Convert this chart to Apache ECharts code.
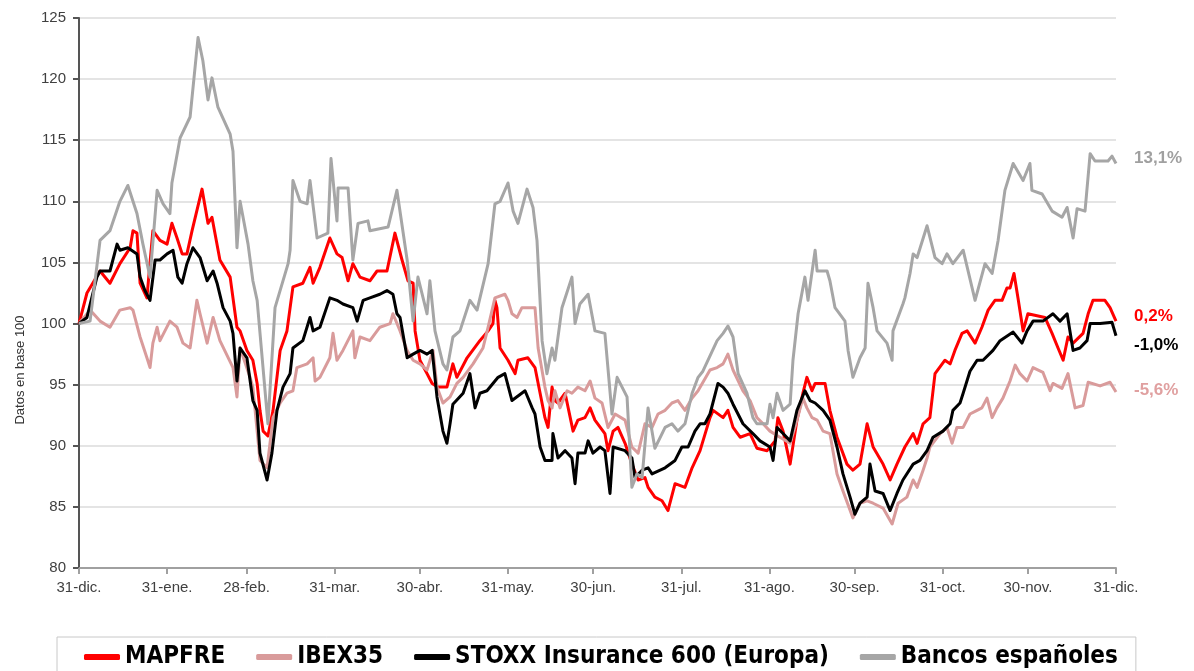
<!DOCTYPE html>
<html>
<head>
  <meta charset="UTF-8">
  <title>MAPFRE vs índices</title>
  <script src="https://cdn.jsdelivr.net/npm/echarts@6/dist/echarts.min.js"></script>
  <style>
    html, body { margin: 0; padding: 0; background: #fff; }
    #main { width: 1194px; height: 671px; }
  </style>
</head>
<body>
<div id="main"></div>
<script type="text/javascript">
  // eje x: dias desde el 31-dic (0..365)
  var tickDays = [0, 31, 59, 90, 120, 151, 181, 212, 243, 273, 304, 334, 365];
  var tickLabels = ['31-dic.', '31-ene.', '28-feb.', '31-mar.', '30-abr.', '31-may.', '30-jun.',
    '31-jul.', '31-ago.', '30-sep.', '31-oct.', '30-nov.', '31-dic.'];
  var yTicks = [80, 85, 90, 95, 100, 105, 110, 115, 120, 125];

  var seriesNames = ['MAPFRE', 'IBEX35', 'STOXX Insurance 600 (Europa)', 'Bancos españoles'];
  var endLabels = ['0,2%', '-5,6%', '-1,0%', '13,1%'];

  // [dia, valor base 100]
  var mapfre = [[0,100],[2.8,102.5],[7.4,104.3],[10.9,103.3],[14.4,104.9],[18,106.2],[19,107.6],[20.4,107.4],[21.5,103.3],[23.9,102.1],[26,107.6],[28.5,106.8],[31,106.5],[32.7,108.2],[34.5,107],[36.3,105.7],[38,105.7],[39.8,107.6],[43.3,111],[45.4,108.2],[46.8,108.7],[49.6,105.2],[53.2,103.8],[55.6,99.7],[56.7,99.4],[59.1,97.8],[61.2,97],[62.7,95.1],[63.7,92.9],[64.8,91.2],[66.5,90.8],[68.3,92.9],[70.8,97.8],[73.2,99.4],[75.3,103],[78.8,103.3],[81.3,104.6],[82.4,103.3],[84.8,104.6],[88.3,107],[90.8,105.7],[92.6,105.4],[94.7,103.5],[96.4,104.9],[98.9,103.8],[102.4,103.5],[104.9,104.3],[108.4,104.3],[111.2,107.4],[113.7,105.2],[115.8,103.5],[117.6,103.3],[118.3,99.4],[120,97],[122.5,95.9],[124.3,95.1],[126.4,94.8],[129.5,94.8],[131.6,96.7],[133,95.6],[136.6,97.2],[141.1,98.6],[144,99.4],[145.7,100],[146.4,101.9],[147.1,101.3],[148.2,98],[151,97],[153.5,95.9],[154.5,97],[158,97.2],[160.5,96.4],[162.3,94.3],[164,92.3],[165.1,91.5],[166.5,94.8],[167.5,93.7],[168.6,93.5],[171.1,94.3],[173.9,91.2],[175.6,92.1],[178.1,92.3],[179.9,93.1],[181.6,92.1],[185.1,91],[186.2,89.6],[188,91.2],[189.7,91.5],[192.2,90.2],[194.6,88.5],[196.8,87.2],[199.2,87.4],[200.3,86.6],[202.7,85.8],[205.2,85.5],[207.3,84.7],[209.8,86.9],[213.3,86.6],[215.8,88.2],[218.6,89.6],[222.1,92.3],[223.2,92.9],[226.7,92.3],[228.4,92.9],[230.2,91.5],[232.7,90.7],[236.2,91],[238.6,89.8],[242.2,89.6],[245,90.4],[246,92.3],[247.8,91.2],[250.3,88.5],[252.7,92.1],[254.8,94.3],[256.2,95.6],[258,94.5],[259.1,95.1],[262.6,95.1],[264.3,92.9],[266.8,90.7],[270.3,88.5],[272.4,88],[274.9,88.5],[277.4,91.8],[279.5,89.9],[283,88.5],[285.5,87.2],[287.9,88.5],[290.7,89.9],[293.6,91],[295,90.2],[297.1,91.8],[299.5,92.3],[301.3,95.9],[304.8,97],[306.6,96.7],[308.3,97.8],[310.8,99.2],[312.6,99.4],[315.4,98.4],[317.8,99.7],[320,101.1],[322.4,101.9],[324.9,101.9],[326.6,102.9],[327.7,102.9],[329.1,104.1],[330.5,102.1],[332.3,99.4],[334,100.8],[340,100.5],[342.5,99.2],[344.6,98],[346.4,97],[348.1,98.9],[349.9,98.4],[353.4,99.2],[355.2,100.8],[356.9,101.9],[361.1,101.9],[362.9,101.3],[365,100.2]];

  var ibex35 = [[0,100],[3.9,101.1],[7.4,100.2],[10.9,99.7],[14.4,101.1],[18,101.3],[19,101.1],[21.5,98.9],[23.9,97.2],[25,96.4],[26,98.4],[27.5,99.7],[28.5,98.6],[32,100.2],[34.5,99.7],[36.6,98.4],[39.1,98],[41.5,101.9],[42.6,100.8],[45.1,98.4],[47.2,100.5],[49.6,98.6],[54.2,96.4],[55.6,94],[56.7,98],[60.2,95.6],[61.2,94.8],[63.7,88.8],[66.2,88.2],[68.3,92.3],[70.8,93.5],[73.2,94.3],[75.3,94.5],[76.7,96.4],[80.3,96.7],[82.4,97.2],[83.1,95.3],[84.8,95.6],[88.3,97.2],[89.4,99.2],[90.8,97],[92.9,97.8],[96.4,99.4],[97.1,97.2],[98.9,98.9],[102.4,98.6],[105.9,99.7],[109.5,100],[110.5,100.8],[113,99.4],[115.5,97.8],[117.6,97],[120,96.7],[122.5,96.2],[124.6,97.8],[126,94.8],[128.1,93.5],[130.6,94],[133,95.1],[135.2,95.6],[138.7,96.7],[142.2,98],[144,99.7],[146.4,102.1],[149.9,102.4],[151,101.9],[152.4,100.8],[154.2,100.5],[155.9,101.3],[160.5,101.3],[161.6,98],[164,94.8],[165.1,93.7],[166.5,93.1],[167.5,94.5],[169.3,93.1],[171.8,94.5],[173.5,94.3],[175.6,94.8],[178.1,94.5],[179.9,95.3],[181.6,93.9],[184.1,93.5],[186.2,91.5],[188.7,92.6],[192.2,92.1],[194.6,89.9],[196.8,89.4],[199.2,91.8],[201.7,91.5],[203.8,92.6],[206.3,92.9],[208.7,93.5],[210.8,93.7],[213.3,92.9],[215.8,93.9],[217.9,94.5],[222.1,96.2],[224.6,96.4],[226.7,96.7],[228.4,97.5],[230.2,96.2],[233.7,94.5],[236.2,93.7],[238.6,92.3],[240.8,91.8],[243.2,91.2],[246.7,90.7],[250.3,90.2],[252.7,92.1],[254.8,93.9],[256.2,93.1],[258,92.3],[259.8,92.1],[261.9,91.2],[264.3,91],[266.8,87.7],[268.9,86.3],[272.4,84.1],[274.9,85.3],[277.4,85.5],[279.5,85.3],[283,84.9],[286.2,83.6],[288.3,85.3],[291.4,85.8],[293.6,87.2],[295,86.6],[297.1,88],[298.5,89],[299.5,89.9],[303.1,91],[305.5,91.5],[307.3,90.2],[309,91.5],[311.2,91.5],[313.6,92.6],[316.1,92.9],[317.8,93.1],[319.6,93.9],[321.4,92.3],[323.1,93.1],[325.2,93.9],[327.7,95.3],[329.5,96.6],[331.2,95.9],[333.7,95.3],[335.8,96.4],[339.3,96],[341.8,94.5],[342.8,95.1],[346,94.7],[348.1,95.9],[350.6,93.1],[353.4,93.3],[355.2,95.2],[359.4,94.9],[362.9,95.2],[365,94.4]];

  var stoxx = [[0,100],[2.8,100.5],[6.3,103.8],[7.4,104.3],[10.9,104.3],[13.4,106.5],[14.4,106],[17.2,106.2],[20.4,105.7],[21.5,103.8],[23.2,102.7],[25,101.9],[26.8,105.2],[28.5,105.2],[31,105.7],[33.1,106],[34.8,103.8],[36.3,103.3],[38,104.9],[40.1,106.2],[42.6,105.4],[45.1,103.5],[47.2,104.3],[48.6,103.3],[50.7,101.3],[53.2,100.2],[54.2,99.2],[55.6,95.3],[56.7,98],[59.1,97.2],[61.2,93.7],[62.7,92.9],[63.7,89.4],[66.2,87.2],[67.9,89.4],[69.7,92.9],[71.8,94.8],[74.3,95.9],[75.3,98],[78.8,98.6],[81.3,100.5],[82.4,99.4],[84.8,99.7],[88.3,102.1],[90.8,101.9],[92.9,101.6],[96.4,101.3],[97.9,100.2],[100,101.9],[102.4,102.1],[105.9,102.4],[108.4,102.7],[110.5,102.4],[111.9,100.8],[113,100.5],[115.5,97.2],[117.6,97.5],[120,97.8],[122.5,97.5],[124.3,97.8],[126,94],[128.1,91.2],[129.5,90.2],[130.6,91.8],[131.6,93.4],[135.2,94.3],[137.6,95.9],[139.4,93.1],[141.1,94.3],[143.6,94.5],[145.7,95.1],[147.5,95.6],[149.9,95.9],[152.4,93.7],[157,94.5],[159.5,93.1],[160.5,92.6],[162.3,89.9],[164,88.8],[166.5,88.8],[166.8,91],[168.6,89],[171.1,89.6],[173.5,89],[174.6,86.9],[175.6,89.4],[178.1,89.4],[179.2,90.4],[180.9,89.4],[183.4,89.9],[185.1,89.6],[186.9,86.1],[188,89.9],[192.2,89.6],[194.6,89],[195.7,87.4],[198.2,88],[200.3,88.2],[201.7,87.7],[206.3,88.2],[209.8,88.8],[212.2,89.9],[214.4,89.9],[216.8,91.2],[218.6,91.8],[220.3,91.8],[222.1,92.6],[224.9,95.1],[226.7,94.8],[228.4,94.3],[230.2,93.4],[233.7,91.8],[237.2,91],[239.7,90.4],[243.2,89.9],[244.3,88.8],[245.7,91.5],[247.8,91],[250.3,90.4],[252.7,92.9],[255.5,94.5],[257.3,93.7],[259.1,93.5],[261.9,92.9],[264.3,92.1],[266.8,89.9],[268.9,87.7],[271.4,85.8],[273.1,84.4],[274.9,85.3],[277.4,85.8],[278.4,88.5],[280.2,86.3],[283,86.1],[285.5,84.7],[287.9,86.1],[290,87.2],[293.6,88.5],[296,88.8],[298.5,89.6],[300.6,90.7],[304.1,91.2],[306.6,91.8],[307.6,92.9],[310.1,93.5],[311.2,94.3],[313.6,96.1],[316.1,97],[318.2,97],[321.7,97.8],[324.2,98.6],[328.8,99.3],[331.9,98.4],[333.7,99.4],[335.8,100.2],[339.3,100.2],[342.8,100.8],[345.3,100.2],[347.8,100.8],[349.9,97.8],[352.3,98],[354.8,98.6],[355.9,100],[359.4,100],[363.6,100.1],[365,99]];

  var bancos = [[0,100],[3.9,100.2],[7.4,106.8],[10.9,107.6],[14.4,110],[17.2,111.3],[20.4,109],[22.5,106.5],[25,103.8],[27.5,110.9],[29.6,109.8],[32,109],[32.7,111.5],[35.6,115.2],[39.1,116.9],[41.9,123.4],[43.6,121.5],[45.4,118.3],[46.8,120.1],[48.9,117.7],[53.2,115.5],[54.2,114.1],[55.6,106.2],[56.7,110],[59.5,106.5],[61.2,103.5],[62.7,101.9],[66.5,91.8],[69,101.3],[73.6,104.9],[74.3,106],[75.3,111.7],[77.8,110],[80.3,109.8],[81.3,111.7],[83.8,107],[87.6,107.4],[88.7,113.5],[90.8,108.4],[91.2,111.1],[94.7,111.1],[96.4,105.2],[98.2,108.2],[101.7,108.4],[102.4,107.6],[108.8,107.9],[111.9,110.9],[115.5,105.2],[117.6,100.2],[119.3,103.8],[122.5,100.8],[123.5,103.5],[125.3,99.4],[128.1,96.7],[129.5,96.2],[131.6,98.9],[134.1,99.4],[137.6,101.9],[140.1,101.1],[144,104.9],[146.4,109.8],[148.2,110],[151,111.5],[152.8,109.2],[154.5,108.2],[157.7,111],[159.8,109.5],[161.2,106.8],[163,98.6],[164.7,95.9],[166.5,98],[167.5,97],[170,101.3],[173.5,103.8],[174.6,100],[176.3,101.6],[179.2,102.4],[181.6,99.4],[185.1,99.2],[187.6,92.6],[189.4,95.6],[192.9,94],[194.6,86.6],[196.4,87.7],[198.2,87.4],[200.3,93.1],[202.7,89.8],[206.3,91.5],[208.7,91.8],[210.8,91.2],[213.3,91.8],[215.8,94.3],[217.9,95.6],[219.6,96.1],[224.6,98.6],[226.7,99.2],[228.4,99.8],[230.2,98.9],[232,95.9],[235.1,94.3],[237.2,92.3],[238.6,91.8],[242.2,91.8],[243.2,93.4],[244.3,92.3],[245.7,94.3],[247.8,92.9],[250.3,93.4],[251.3,97],[253.1,100.8],[255.5,103.8],[256.6,101.9],[259.1,106],[259.8,104.3],[263.3,104.3],[264.3,103.5],[266.1,101.3],[269.6,100.2],[270.7,97.8],[272.4,95.6],[274.9,97.2],[276.7,98],[277.7,103.3],[279.5,101.3],[280.9,99.4],[284.4,98.4],[286.2,97],[286.5,99.4],[290,101.6],[290.7,102.1],[292.5,104.1],[293.6,105.7],[295,105.4],[298.5,108],[301.3,105.4],[303.8,104.9],[305.5,105.7],[307.6,104.9],[311.2,106],[315.4,101.9],[318.9,104.9],[321.4,104.1],[323.5,106.8],[325.9,110.9],[328.8,113.1],[332.3,111.7],[334.7,113.1],[335.4,110.9],[339,110.6],[342.5,109.2],[346,108.7],[347.8,109.5],[349.9,107],[351.3,109.4],[354.1,109.2],[355.9,113.9],[357.6,113.3],[362.2,113.3],[363.6,113.7],[365,113.1]];

  var lineColors = ['#ff0000', '#d99b9b', '#000000', '#a6a6a6'];
  var labelColors = ['#ff0000', '#e0a0a0', '#000000', '#a0a0a0'];
  var labelOffsets = [[0, -5], [0, -2], [0, 10], [0, -5]];
  var allData = [mapfre, ibex35, stoxx, bancos];

  var myChart = echarts.init(document.getElementById('main'));

  var series = seriesNames.map(function (name, i) {
    return {
      name: name,
      type: 'line',
      data: allData[i],
      showSymbol: false,
      symbol: 'none',
      silent: true,
      animation: false,
      lineStyle: {color: lineColors[i], width: 3, join: 'round'},
      itemStyle: {color: lineColors[i]},
      endLabel: {
        show: true,
        formatter: endLabels[i],
        color: labelColors[i],
        fontFamily: 'Liberation Sans, Arial, sans-serif',
        fontWeight: 'bold',
        fontSize: 17,
        distance: 18,
        offset: labelOffsets[i]
      }
    };
  });

  var option = {
    backgroundColor: '#fff',
    animation: false,
    grid: {left: 79, right: 78, top: 18, bottom: 103},
    legend: {
      data: seriesNames,
      left: 57,
      top: 637,
      padding: [8, 18, 14, 27],
      itemGap: 31,
      itemWidth: 36,
      itemHeight: 6,
      icon: 'roundRect',
      borderColor: '#c8c8c8',
      borderWidth: 1,
      backgroundColor: '#fff',
      textStyle: {
        fontFamily: 'Liberation Sans Narrow, DejaVu Sans Condensed, Liberation Sans, Arial, sans-serif',
        fontWeight: 'bold',
        fontSize: 24,
        color: '#000'
      }
    },
    graphic: [{
      type: 'text',
      x: 20,
      y: 370,
      rotation: Math.PI / 2,
      style: {
        text: 'Datos en base 100',
        font: '13px "Liberation Sans", Arial, sans-serif',
        fill: '#333',
        align: 'center',
        verticalAlign: 'middle'
      }
    }],
    xAxis: {
      type: 'value',
      min: 0,
      max: 365,
      axisLine: {show: true, lineStyle: {color: '#a0a0a0', width: 2}},
      axisTick: {show: true, length: 6, customValues: tickDays, lineStyle: {color: '#a0a0a0', width: 2}},
      splitLine: {show: false},
      axisLabel: {
        customValues: tickDays,
        formatter: function (v) {
          var k = tickDays.indexOf(v);
          return k >= 0 ? tickLabels[k] : '';
        },
        margin: 12,
        color: '#404040',
        fontFamily: 'Liberation Sans, Arial, sans-serif',
        fontSize: 15
      }
    },
    yAxis: {
      type: 'value',
      min: yTicks[0],
      max: yTicks[yTicks.length - 1],
      interval: 5,
      axisLine: {show: true, lineStyle: {color: '#555', width: 2}},
      axisTick: {show: true, length: 6, lineStyle: {color: '#555', width: 2}},
      splitLine: {show: true, lineStyle: {color: '#e4e4e4', width: 2}},
      axisLabel: {
        margin: 13,
        color: '#404040',
        fontFamily: 'Liberation Sans, Arial, sans-serif',
        fontSize: 15
      }
    },
    series: series
  };

  myChart.setOption(option);
</script>
</body>
</html>
